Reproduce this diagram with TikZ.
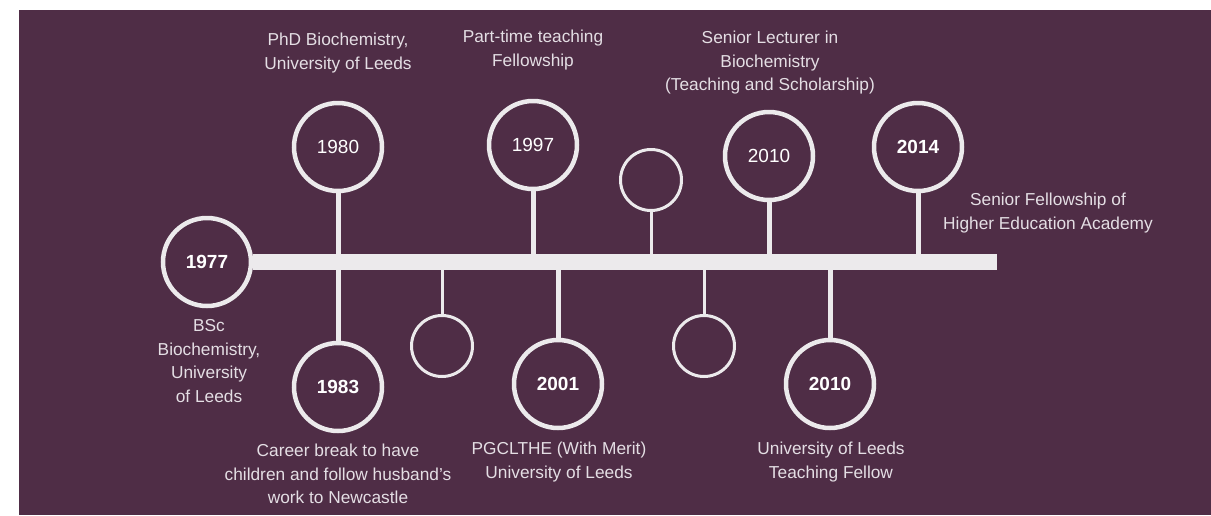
\documentclass[tikz,border=0pt]{standalone}
\usepackage{fontspec}
\setmainfont{Liberation Sans}
\usepackage{xcolor}
\usepackage{tikz}
\usetikzlibrary{positioning}
\definecolor{plum}{RGB}{79,45,70}
\definecolor{chalk}{RGB}{236,234,236}
\definecolor{softtext}{RGB}{228,222,228}

\begin{document}
\begin{tikzpicture}[x=1pt,y=-1pt,
  year/.style={circle,draw=chalk,line width=4.5pt,minimum size=88pt,inner sep=0pt,
    text=white,font=\fontsize{19}{19}\selectfont\bfseries},
  yearlight/.style={year,font=\fontsize{19}{19}\selectfont},
  smalldot/.style={circle,draw=chalk,line width=3pt,minimum size=61pt,inner sep=0pt},
  stem/.style={draw=chalk,line width=5pt},
  thinstem/.style={draw=chalk,line width=3pt},
  bar/.style={draw=chalk,line width=16pt},
  blurb/.style={text=softtext,align=center,font=\fontsize{17.3}{23.5}\selectfont}]
      \fill[white] (0,0) rectangle (1211,515);
      \useasboundingbox (0,0) rectangle (1211,515);
      \fill[plum] (19,10) rectangle (1211,515);
      \coordinate (barend) at (997,262);
% circles
      \node[year] (y1977) at (207,262) {1977};
      \node[yearlight] (y1980) at (338,147) {1980};
      \node[year] (y1983) at (338,387) {1983};
      \node[smalldot] (d1) at (442,346) {};
      \node[yearlight] (y1997) at (533,145) {1997};
      \node[year] (y2001) at (558,384) {2001};
      \node[smalldot] (d2) at (651,180) {};
      \node[smalldot] (d3) at (704,346) {};
      \node[yearlight] (y2010a) at (769,156) {2010};
      \node[year] (y2010b) at (830,384) {2010};
      \node[year] (y2014) at (918,147) {2014};
% stems and bar
      \draw[stem] (y1980) -- (y1980 |- barend);
      \draw[stem] (y1983) -- (y1983 |- barend);
      \draw[thinstem] (d1) -- (d1 |- barend);
      \draw[stem] (y1997) -- (y1997 |- barend);
      \draw[stem] (y2001) -- (y2001 |- barend);
      \draw[thinstem] (d2) -- (d2 |- barend);
      \draw[thinstem] (d3) -- (d3 |- barend);
      \draw[stem] (y2010a) -- (y2010a |- barend);
      \draw[stem] (y2010b) -- (y2010b |- barend);
      \draw[stem] (y2014) -- (y2014 |- barend);
      \draw[bar] (y1977) -- (barend);
% texts
      \node[blurb] (t1977) at (209,361) {BSc\\Biochemistry,\\University\\of Leeds};
      \node[blurb] (t1980) at (338,53) {PhD Biochemistry,\\University of Leeds};
      \node[blurb] (t1983) at (338,474) {Career break to have\\children and follow husband’s\\work to Newcastle};
      \node[blurb] (t1997) at (533,50) {Part-time teaching\\Fellowship};
      \node[blurb] (t2001) at (559,462) {PGCLTHE (With Merit)\\University of Leeds};
      \node[blurb] (t2010a) at (770,63) {Senior Lecturer in\\Biochemistry\\(Teaching and Scholarship)};
      \node[blurb] (t2010b) at (831,462) {University of Leeds\\Teaching Fellow};
      \node[blurb] (t2014) at (1048,213) {Senior Fellowship of\\Higher Education Academy};
\end{tikzpicture}
\end{document}
